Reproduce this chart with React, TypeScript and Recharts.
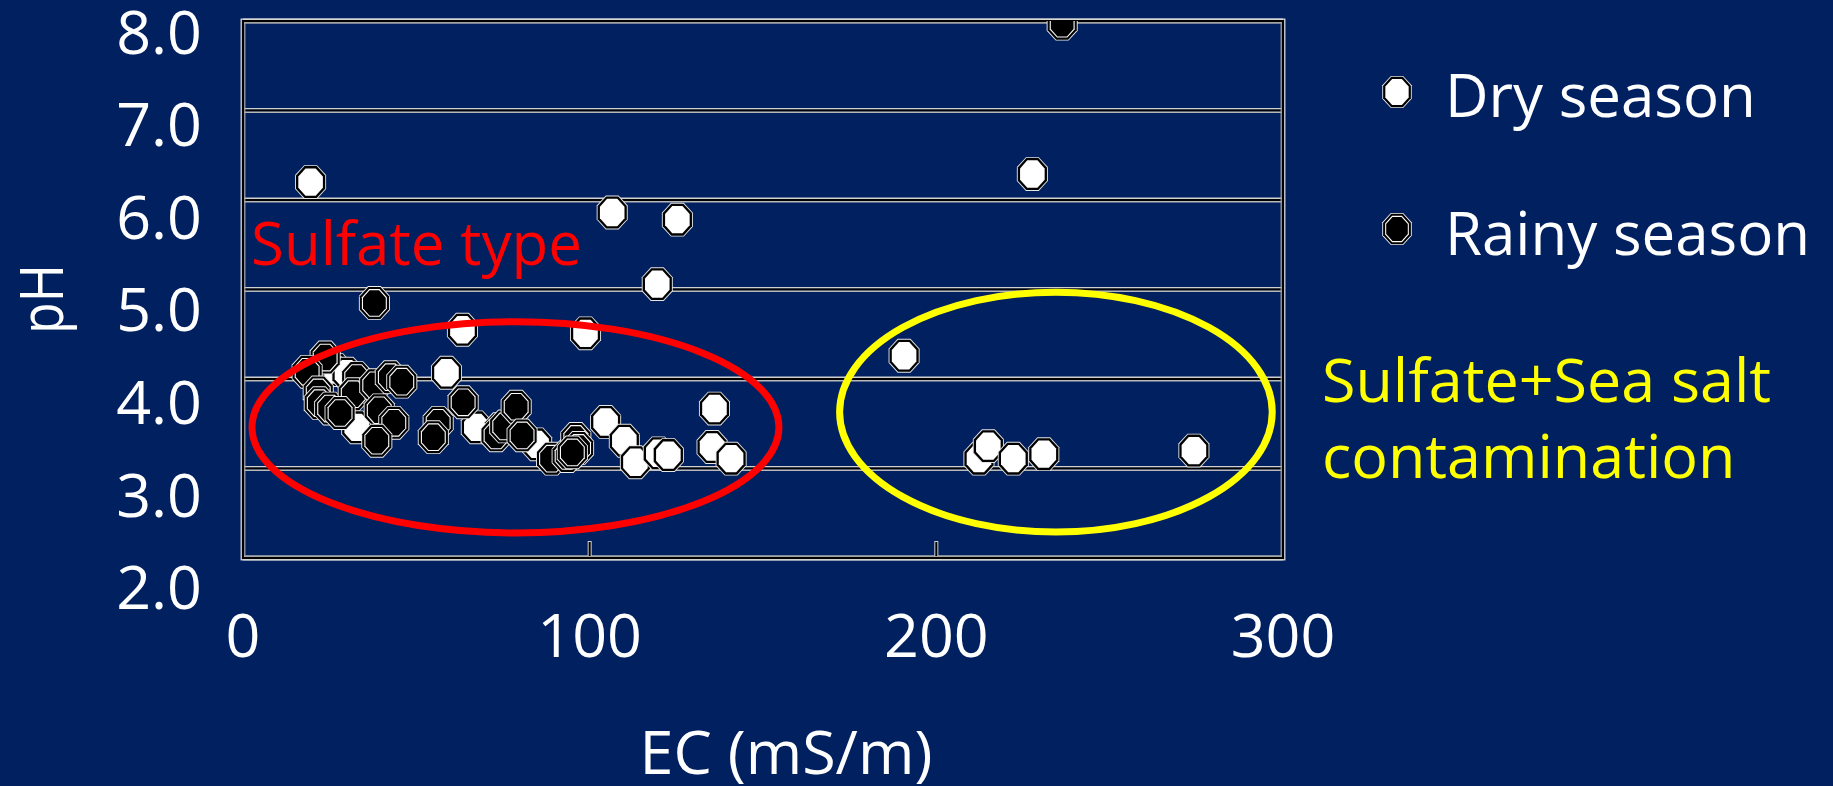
import React from 'react';
import {
  ScatterChart,
  Scatter,
  XAxis,
  YAxis,
  CartesianGrid,
  ReferenceArea,
  Legend,
} from 'recharts';

// ---------- data ----------
const dryEC = [19.5, 106.5, 125.3, 119.5, 63.3, 98.8, 227.7, 190.7, 58.7, 27.0, 30.0, 32.8, 67.3, 84.7, 104.6, 110.0, 113.2, 119.8, 122.7, 136.0, 135.3, 140.8, 212.3, 215.0, 222.2, 231.0, 274.3];
const dryPH = [6.20, 5.86, 5.78, 5.06, 4.55, 4.51, 6.29, 4.26, 4.07, 4.10, 4.06, 3.46, 3.46, 3.27, 3.52, 3.31, 3.07, 3.17, 3.15, 3.67, 3.24, 3.11, 3.11, 3.25, 3.11, 3.16, 3.20];

const rainyEC = [236.3, 37.9, 23.7, 18.5, 32.8, 21.7, 22.0, 25.0, 31.8, 38.0, 42.5, 45.8, 39.3, 43.5, 38.6, 63.5, 56.3, 54.9, 74.0, 73.0, 75.5, 78.8, 80.5, 89.0, 93.5, 96.0, 96.8, 95.0, 28.0];
const rainyPH = [7.97, 4.85, 4.24, 4.08, 4.01, 3.85, 3.73, 3.67, 3.83, 3.93, 4.02, 3.97, 3.65, 3.51, 3.31, 3.74, 3.51, 3.35, 3.44, 3.37, 3.47, 3.69, 3.37, 3.11, 3.14, 3.33, 3.23, 3.18, 3.62];

const xTicks = [0, 100, 200, 300];
const yTicks = [2, 3, 4, 5, 6, 7, 8];

const seriesNames = ['Dry season', 'Rainy season'];

// grouping ellipses: [ecMin, ecMax, phMin, phMax]
const sulfateEllipse = [2.6, 154.6, 2.28, 4.64];
const seaSaltEllipse = [172.1, 296.9, 2.29, 4.97];

const dryData = dryEC.map((ec, i) => ({ ec, ph: dryPH[i] }));
const rainyData = rainyEC.map((ec, i) => ({ ec, ph: rainyPH[i] }));

// ---------- styles ----------
const BG = '#002060';
const FONT = '"Open Sans", "DejaVu Sans", sans-serif';

const octPoints = (cx: number, cy: number, rx: number, ry: number) => {
  const pts: string[] = [];
  for (let k = 0; k < 8; k++) {
    const a = (Math.PI / 8) + (k * Math.PI) / 4;
    pts.push(`${(cx + rx * Math.cos(a)).toFixed(2)},${(cy + ry * Math.sin(a)).toFixed(2)}`);
  }
  return pts.join(' ');
};

const DryMarker = ({ cx, cy, s = 1 }: any) => {
  if (cx == null || cy == null) return null;
  return (
    <g>
      <polygon points={octPoints(cx, cy, 16.8 * s, 18.3 * s)} fill="#e6e6e6" />
      <polygon points={octPoints(cx, cy, 15.8 * s, 17.3 * s)} fill="#000" />
      <polygon points={octPoints(cx, cy, 13.3 * s, 14.8 * s)} fill="#fff" />
    </g>
  );
};

const RainyMarker = ({ cx, cy, s = 1 }: any) => {
  if (cx == null || cy == null) return null;
  return (
    <g>
      <polygon points={octPoints(cx, cy, 16.8 * s, 18.3 * s)} fill="#f0f0f0" />
      <polygon points={octPoints(cx, cy, 15.8 * s, 17.3 * s)} fill="#000" />
      <polygon points={octPoints(cx, cy, 13.5 * s, 15 * s)} fill="#fff" />
      <polygon points={octPoints(cx, cy, 12.3 * s, 13.8 * s)} fill="#000" />
    </g>
  );
};

const YTick = ({ x, y, payload }: any) => {
  const v = Number(payload.value);
  const base = y + 10.5 + 3.1 * (8 - v) + 22;
  return (
    <text x={x} y={base} textAnchor="end" fill="#fff" fontSize={61} fontFamily={FONT}>
      {v.toFixed(1)}
    </text>
  );
};

const XTick = ({ x, y, payload }: any) => {
  const v = Number(payload.value);
  const inner = v > 0 && v < 300;
  return (
    <g>
      {inner && (
        <g>
          <line x1={x} x2={x} y1={y - 17} y2={y - 2} stroke="#d0d0d0" strokeWidth={4} />
          <line x1={x} x2={x} y1={y - 16} y2={y - 2} stroke="#000" strokeWidth={2} />
        </g>
      )}
      <text x={x} y={y + 99} textAnchor="middle" fill="#fff" fontSize={61} fontFamily={FONT}>
        {v}
      </text>
    </g>
  );
};

const gridLine = (props: any) => {
  const { x1, x2, y1, index } = props;
  return (
    <g key={`gl-${index}-${y1}`}>
      <line x1={x1} x2={x2} y1={y1 - 1.8} y2={y1 - 1.8} stroke="#d0d0d0" strokeWidth={1.4} />
      <line x1={x1} x2={x2} y1={y1} y2={y1} stroke="#000" strokeWidth={2} />
      <line x1={x1} x2={x2} y1={y1 + 1.8} y2={y1 + 1.8} stroke="#b8b8b8" strokeWidth={1.4} />
    </g>
  );
};

const FrameShape = ({ x, y, width, height }: any) => (
  <g>
    <rect x={x - 1.8} y={y - 1.8} width={width + 3.6} height={height + 3.6} fill="none" stroke="#d9d9d9" strokeWidth={1.3} />
    <rect x={x} y={y} width={width} height={height} fill="none" stroke="#000" strokeWidth={2} />
    <rect x={x + 1.8} y={y + 1.8} width={width - 3.6} height={height - 3.6} fill="none" stroke="#a0a0a0" strokeWidth={1.3} />
  </g>
);

const ellipseShape = (color: string) => ({ x, y, width, height }: any) => (
  <ellipse
    cx={x + width / 2}
    cy={y + height / 2}
    rx={width / 2}
    ry={height / 2}
    fill="none"
    stroke={color}
    strokeWidth={7}
  />
);

const LegendContent = () => (
  <svg width={463} height={260} style={{ overflow: 'visible' }}>
    <DryMarker cx={27} cy={52} s={0.95} />
    <text x={75} y={77} fill="#fff" fontSize={60} fontFamily={FONT}>{seriesNames[0]}</text>
    <RainyMarker cx={27} cy={189} s={0.95} />
    <text x={75} y={215} fill="#fff" fontSize={60} fontFamily={FONT}>{seriesNames[1]}</text>
  </svg>
);

export default function App() {
  return (
    <div style={{ position: 'absolute', left: 0, top: 0, width: 1833, height: 786, background: BG, overflow: 'hidden' }}>
      <ScatterChart
        width={1833}
        height={786}
        margin={{ top: 21, right: 550, bottom: 128, left: 43 }}
      >
        <CartesianGrid vertical={false} horizontal={gridLine} />
        <ReferenceArea x1={0} x2={300} y1={2} y2={8} shape={FrameShape} ifOverflow="visible" />
        <XAxis
          type="number"
          dataKey="ec"
          domain={[0, 300]}
          ticks={xTicks}
          interval={0}
          height={100}
          axisLine={false}
          tickLine={false}
          tickSize={0}
          tickMargin={0}
          tick={XTick}
          allowDataOverflow
          label={{
            content: (p: any) => {
              const vb = p.viewBox || { x: 243, y: 558, width: 1040 };
              return (
                <text x={vb.x + vb.width / 2 + 23} y={vb.y + 216} textAnchor="middle" fill="#fff" fontSize={61} fontFamily={FONT}>
                  EC (mS/m)
                </text>
              );
            },
          }}
        />
        <YAxis
          type="number"
          dataKey="ph"
          domain={[2, 8]}
          ticks={yTicks}
          interval={0}
          width={200}
          axisLine={false}
          tickLine={false}
          tickSize={0}
          tickMargin={41}
          tick={YTick}
          allowDataOverflow
          label={{
            content: (p: any) => {
              const vb = p.viewBox || { x: 43, y: 21, width: 200, height: 537 };
              const lx = vb.x + 20;
              const ly = vb.y + vb.height / 2 + 9.5;
              return (
                <text x={lx} y={ly} transform={`rotate(-90 ${lx} ${ly})`} textAnchor="middle" fill="#fff" fontSize={60} fontFamily={FONT} textLength={70} lengthAdjust="spacingAndGlyphs">
                  pH
                </text>
              );
            },
          }}
        />
        <Legend
          layout="horizontal"
          verticalAlign="middle"
          align="center"
          content={LegendContent}
          wrapperStyle={{ position: 'absolute', left: 1370, top: 40, width: 463, height: 260 }}
        />
        <Scatter name={seriesNames[0]} data={dryData} isAnimationActive={false} shape={DryMarker} />
        <Scatter name={seriesNames[1]} data={rainyData} isAnimationActive={false} shape={RainyMarker} />
        <ReferenceArea
          x1={sulfateEllipse[0]}
          x2={sulfateEllipse[1]}
          y1={sulfateEllipse[2]}
          y2={sulfateEllipse[3]}
          shape={ellipseShape('#ff0000')}
          zIndex={700}
        />
        <ReferenceArea
          x1={seaSaltEllipse[0]}
          x2={seaSaltEllipse[1]}
          y1={seaSaltEllipse[2]}
          y2={seaSaltEllipse[3]}
          shape={ellipseShape('#ffff00')}
          zIndex={700}
        />
      </ScatterChart>
      <svg width={1833} height={786} style={{ position: 'absolute', left: 0, top: 0, pointerEvents: 'none' }}>
        <text x={251} y={265} fill="#ff0000" fontSize={60} fontFamily={FONT}>Sulfate type</text>
        <text x={1322} y={402} fill="#ffff00" fontSize={61} fontFamily={FONT}>Sulfate+Sea salt</text>
        <text x={1322} y={478} fill="#ffff00" fontSize={61} fontFamily={FONT}>contamination</text>
      </svg>
    </div>
  );
}
